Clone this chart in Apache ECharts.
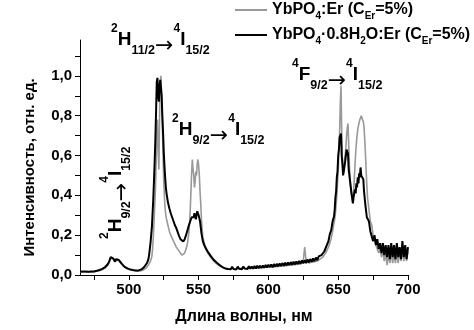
<!DOCTYPE html>
<html>
<head>
<meta charset="utf-8">
<script src="https://cdn.jsdelivr.net/npm/echarts@6/dist/echarts.min.js"></script>
<style>
  html, body { margin: 0; padding: 0; background: #fff; }
  #chart { width: 474px; height: 330px; }
</style>
</head>
<body>
<div id="chart"></div>
<script>
// длина волны, нм (шаг 0.5 нм вокруг пиков)
const wavelength = [
  465,466,467,468,469,470,471,472,473,474,475,476,477,478,479,480,481,482,483,484,
  485,486,487,488,489,490,491,492,493,494,495,496,497,498,499,500,501,502,503,504,
  505,506,507,508,509,510,511,512,513,514,
  514.5,515,515.5,516,516.5,517,517.5,518,518.5,519,519.5,520,520.5,521,521.5,522,522.5,523,523.5,524,
  524.5,525,525.5,526,526.5,527,
  528,529,530,531,532,533,534,535,536,537,538,539,540,541,542,543,
  543.5,544,544.5,545,545.5,546,546.5,547,547.5,548,548.5,549,549.5,550,550.5,551,551.5,552,552.5,553,
  554,555,556,557,558,559,560,561,562,563,564,565,566,567,568,569,570,571,572,573,
  574,575,576,577,578,579,580,581,582,583,584,585,586,587,588,589,590,591,592,593,
  594,595,596,597,598,599,600,601,602,603,604,605,606,607,608,609,610,611,612,613,
  614,615,616,617,618,619,620,621,622,623,624,625,626,627,628,629,630,631,632,633,
  634,635,636,637,638,639,640,641,642,643,644,645,646,647,
  647.5,648,648.5,649,649.5,650,650.5,651,651.5,652,652.5,653,653.5,654,654.5,655,655.5,656,656.5,657,
  657.5,658,658.5,659,659.5,660,660.5,661,661.5,662,662.5,663,663.5,664,664.5,665,665.5,666,666.5,667,
  667.5,668,668.5,669,669.5,670,670.5,671,
  672,673,674,675,676,677,678,679,680,681,682,683,684,685,686,687,688,689,690,691,
  692,693,694,695,696,697,698,699,700
];

// YbPO4:Er (серая кривая)
const anhydrous = [
  .014,.013,.015,.014,.015,.016,.015,.016,.015,.017,.016,.018,.019,.020,.022,.025,.027,.031,.036,.042,
  .050,.064,.085,.095,.078,.066,.076,.080,.070,.062,.052,.045,.038,.034,.030,.028,.026,.024,.022,.021,
  .020,.019,.019,.020,.022,.024,.028,.033,.040,.050,
  .055,.062,.07,.08,.095,.13,.19,.26,.34,.42,.55,.72,.78,.62,.53,.80,.97,1.0,.90,.75,
  .60,.47,.39,.33,.30,.28,
  .25,.22,.20,.185,.17,.155,.14,.13,.12,.11,.10,.10,.11,.13,.16,.21,
  .26,.33,.42,.52,.58,.53,.50,.44,.47,.52,.50,.56,.58,.55,.50,.42,.36,.28,.23,.19,
  .16,.14,.12,.105,.095,.085,.075,.068,.062,.056,.05,.046,.042,.039,.036,.034,.033,.031,.032,.030,
  .033,.030,.034,.031,.029,.033,.031,.034,.031,.034,.030,.035,.033,.034,.031,.036,.034,.035,.034,.038,
  .035,.037,.036,.039,.037,.040,.041,.039,.043,.040,.044,.042,.046,.043,.047,.045,.048,.046,.05,.047,
  .051,.049,.053,.051,.055,.052,.056,.054,.058,.057,.06,.075,.14,.07,.062,.061,.066,.064,.069,.067,
  .072,.07,.076,.08,.085,.09,.10,.11,.125,.14,.16,.185,.22,.26,
  .28,.31,.35,.40,.46,.53,.62,.72,.86,.95,.72,.56,.52,.54,.58,.60,.64,.70,.74,.76,
  .66,.55,.48,.44,.41,.39,.38,.42,.48,.55,.61,.66,.70,.73,.75,.76,.78,.79,.80,.80,
  .79,.77,.74,.68,.61,.53,.45,.39,
  .33,.27,.25,.2,.2,.15,.16,.11,.13,.09,.12,.07,.11,.05,.1,.06,.11,.06,.1,.06,
  .11,.06,.12,.07,.13,.07,.12,.07,.12
];

// YbPO4·0.8H2O:Er (чёрная кривая)
const hydrate = [
  .016,.015,.017,.016,.018,.017,.016,.018,.017,.019,.018,.020,.021,.023,.025,.028,.031,.035,.040,.046,
  .055,.070,.090,.100,.082,.068,.080,.085,.074,.066,.056,.048,.041,.037,.033,.030,.028,.027,.025,.024,
  .023,.022,.023,.025,.028,.033,.040,.048,.060,.080,
  .10,.13,.16,.20,.24,.31,.38,.47,.57,.68,.82,.97,.99,.90,.87,.95,.98,.99,.90,.80,
  .72,.62,.55,.49,.44,.41,
  .365,.335,.31,.29,.27,.25,.235,.215,.195,.18,.17,.168,.18,.20,.225,.25,
  .26,.27,.28,.29,.30,.28,.29,.31,.30,.28,.30,.32,.33,.30,.29,.27,.24,.21,.19,.17,
  .15,.135,.125,.112,.105,.092,.086,.075,.072,.062,.06,.05,.049,.04,.043,.033,.04,.03,.04,.029,
  .041,.03,.04,.028,.042,.031,.04,.029,.043,.032,.042,.03,.044,.032,.043,.031,.045,.033,.046,.034,
  .047,.035,.048,.036,.05,.038,.052,.04,.053,.039,.055,.042,.056,.043,.058,.045,.06,.046,.062,.048,
  .063,.05,.065,.051,.067,.053,.068,.055,.071,.056,.073,.058,.075,.06,.078,.063,.08,.066,.083,.069,
  .088,.074,.093,.085,.1,.098,.118,.125,.152,.17,.205,.225,.27,.295,
  .33,.39,.42,.49,.52,.60,.63,.69,.70,.71,.6,.56,.5,.52,.51,.57,.56,.63,.62,.61,
  .53,.52,.47,.48,.41,.4,.36,.39,.39,.43,.41,.46,.44,.49,.46,.51,.49,.54,.5,.51,
  .49,.48,.42,.42,.35,.34,.29,.29,
  .27,.22,.21,.17,.2,.15,.18,.13,.16,.11,.16,.1,.15,.09,.15,.08,.16,.09,.15,.08,
  .16,.09,.14,.08,.17,.09,.15,.08,.14
];

const xLabelValues = [500, 550, 600, 650, 700];
const xTickValues = [475, 500, 525, 550, 575, 600, 625, 650, 675, 700];
const yLabelValues = [0, 0.2, 0.4, 0.6, 0.8, 1.0];
const yTickValues = [0, 0.1, 0.2, 0.3, 0.4, 0.5, 0.6, 0.7, 0.8, 0.9, 1.0, 1.1];

const font = "'Liberation Sans', Arial, sans-serif";

const legendRich = {
  n: { fontFamily: font, fontSize: 16, fontWeight: 'bold', color: '#000', lineHeight: 22 },
  s: { fontFamily: font, fontSize: 10, fontWeight: 'bold', color: '#000', lineHeight: 11, verticalAlign: 'bottom' }
};
const legendText = {
  'YbPO4:Er': '{n|YbPO}{s|4}{n|:Er (C}{s|Er}{n|=5%)}',
  'YbPO4·0.8H2O:Er': '{n|YbPO}{s|4}{n|·0.8H}{s|2}{n|O:Er (C}{s|Er}{n|=5%)}'
};

// подписи переходов: m - основной символ, p - верхний индекс, b - нижний, a - стрелка
const annoRich = {
  m: { fontFamily: font, fontSize: 19, fontWeight: 'bold', fill: '#000', lineHeight: 34 },
  p: { fontFamily: font, fontSize: 12, fontWeight: 'bold', fill: '#000', lineHeight: 15, verticalAlign: 'top' },
  b: { fontFamily: font, fontSize: 12.5, fontWeight: 'bold', fill: '#000', lineHeight: 12, verticalAlign: 'bottom' },
  a: { fontFamily: 'DejaVu Sans', fontSize: 22, fill: '#000', lineHeight: 29, verticalAlign: 'bottom' }
};
function transition(term, j) {
  return '{p|' + term[0] + '}{m|' + term[1] + '}{b|' + j + '}{a|→}{p|4}{m|I}{b|15/2}';
}
function anno(x, y, text, rotation) {
  return {
    type: 'text', x: x, y: y, rotation: rotation || 0, silent: true,
    style: { text: text, rich: annoRich, align: 'left', verticalAlign: 'top' }
  };
}

const chart = echarts.init(document.getElementById('chart'));
chart.setOption({
  animation: false,
  grid: { left: 80, right: 66, top: 40, bottom: 55 },
  legend: {
    orient: 'vertical', left: 235, top: 2, padding: 0, itemGap: 6,
    itemWidth: 32, itemHeight: 2, icon: 'rect', selectedMode: false,
    formatter: name => legendText[name],
    textStyle: { rich: legendRich }
  },
  xAxis: {
    type: 'value', min: 465, max: 700,
    name: 'Длина волны, нм', nameLocation: 'middle', nameGap: 34,
    nameTextStyle: { fontFamily: font, fontSize: 16, fontWeight: 'bold', color: '#000' },
    axisLine: { show: true, lineStyle: { color: '#000', width: 1 } },
    axisTick: { show: true, length: 5, customValues: xTickValues, lineStyle: { color: '#000' } },
    axisLabel: { customValues: xLabelValues, margin: 7, fontFamily: font, fontSize: 15, fontWeight: 'bold', color: '#000' },
    splitLine: { show: false }
  },
  yAxis: {
    type: 'value', min: 0, max: 1.18,
    name: 'Интенсивность, отн. ед.', nameLocation: 'middle', nameGap: 43,
    nameTextStyle: { fontFamily: font, fontSize: 15, fontWeight: 'bold', color: '#000', padding: [0, 20, 0, 0] },
    axisLine: { show: true, lineStyle: { color: '#000', width: 1 } },
    axisTick: { show: true, length: 5, customValues: yTickValues, lineStyle: { color: '#000' } },
    axisLabel: {
      customValues: yLabelValues, margin: 8, fontFamily: font, fontSize: 15, fontWeight: 'bold', color: '#000',
      formatter: v => v.toFixed(1).replace('.', ',')
    },
    splitLine: { show: false }
  },
  graphic: [
    anno(111, 23, transition(['2', 'H'], '11/2')),
    anno(172, 113, transition(['2', 'H'], '9/2')),
    anno(292, 58, transition(['4', 'F'], '9/2')),
    anno(99, 239, transition(['2', 'H'], '9/2'), Math.PI / 2)
  ],
  series: [
    {
      name: 'YbPO4:Er', type: 'line', showSymbol: false, color: '#999',
      lineStyle: { width: 1.6, color: '#999' },
      data: wavelength.map((w, i) => [w, anhydrous[i]])
    },
    {
      name: 'YbPO4·0.8H2O:Er', type: 'line', showSymbol: false, color: '#000',
      lineStyle: { width: 2, color: '#000' },
      data: wavelength.map((w, i) => [w, hydrate[i]])
    }
  ]
});
</script>
</body>
</html>
